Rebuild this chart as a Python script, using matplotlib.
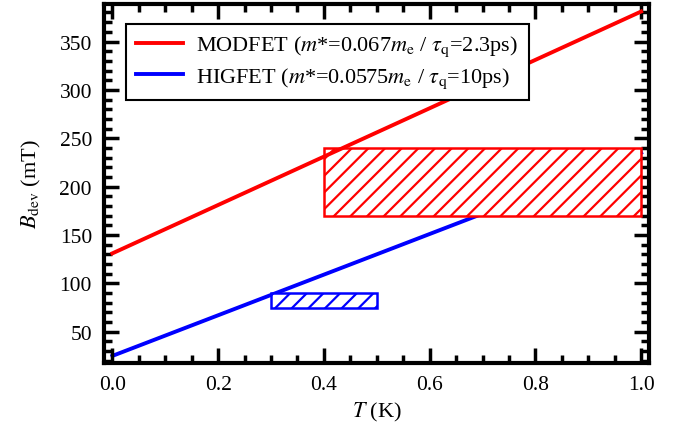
import matplotlib
matplotlib.use("Agg")
import matplotlib.pyplot as plt
from matplotlib.patches import Rectangle
from matplotlib.ticker import MultipleLocator

plt.rcParams['font.family'] = 'Liberation Serif'
plt.rcParams['mathtext.fontset'] = 'stix'
plt.rcParams['font.size'] = 15.5
plt.rcParams['hatch.linewidth'] = 1.6

# line endpoints (T in K, B_dev in mT)
T = [0.0, 1.0]
b_modfet = [131, 381]
b_higfet = [25, 235]

# experimental ranges: (T0, T1, B0, B1)
box_modfet = (0.4, 1.0, 170, 240)
box_higfet = (0.3, 0.5, 75, 90)

fig = plt.figure(figsize=(6.74, 4.35), dpi=100)
ax = fig.add_axes([0.155, 0.164, 0.808, 0.825])

ax.plot(T, b_modfet, color='#ff0000', lw=2.8, zorder=3,
        label=r'MODFET ($m$*=0.067$m_{\rm e}$ / $\tau_{\rm q}$=2.3ps)')
ax.plot(T, b_higfet, color='#0000ff', lw=2.8, zorder=1,
        label=r'HIGFET ($m$*=0.0575$m_{\rm e}$ / $\tau_{\rm q}$=10ps)')

for (t0, t1, b0, b1), c in [(box_modfet, '#ff0000'), (box_higfet, '#0000ff')]:
    ax.add_patch(Rectangle((t0, b0), t1 - t0, b1 - b0, facecolor='white',
                           edgecolor=c, hatch='//', lw=1.8, zorder=2))

ax.set_xlim(-0.015, 1.015)
ax.set_ylim(18, 389)
ax.xaxis.set_major_locator(MultipleLocator(0.2))
ax.xaxis.set_minor_locator(MultipleLocator(0.05))
ax.yaxis.set_major_locator(MultipleLocator(50))
ax.yaxis.set_minor_locator(MultipleLocator(10))
ax.set_xticks([0, 0.2, 0.4, 0.6, 0.8, 1.0])
ax.set_xticklabels(['0.0', '0.2', '0.4', '0.6', '0.8', '1.0'])
ax.tick_params(which='both', direction='in', top=True, right=True, width=2.5)
ax.tick_params(which='major', length=11, pad=9)
ax.tick_params(which='minor', length=6)
for s in ax.spines.values():
    s.set_linewidth(3)

ax.set_xlabel(r'$T$ (K)', fontsize=16, labelpad=4)
ax.set_ylabel(r'$B_{\rm dev}$ (mT)', fontsize=16, labelpad=12)

leg = ax.legend(loc='upper left', bbox_to_anchor=(0.02, 0.975), fancybox=False,
                edgecolor='black', framealpha=1, handlelength=2.1, fontsize=16,
                borderpad=0.45, labelspacing=0.3, handletextpad=0.6)
leg.get_frame().set_linewidth(1.5)

fig.savefig('out.png', dpi=100)
